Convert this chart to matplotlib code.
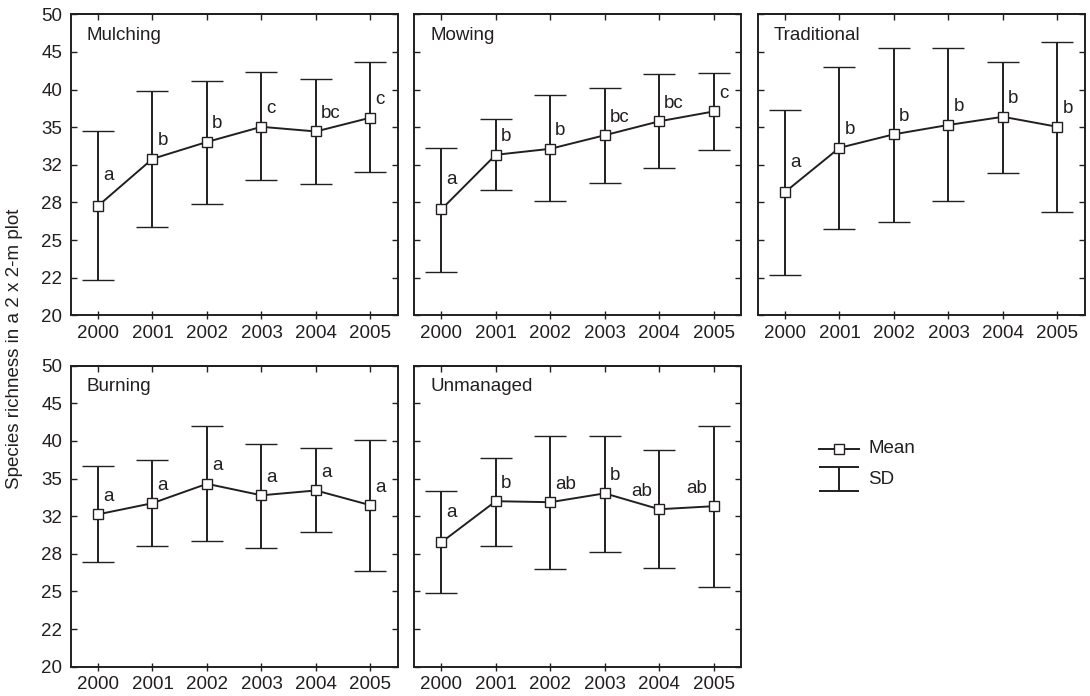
import matplotlib.pyplot as plt
import numpy as np
from matplotlib.ticker import FixedLocator, NullLocator

plt.rcParams['font.family'] = ['Liberation Sans', 'DejaVu Sans']

ink = '#231f20'
fs = 13.5

years = [2000, 2001, 2002, 2003, 2004, 2005]

# means with lower / upper SD limits (back-transformed, log scale)
mulching_mean = [27.9, 32.2, 33.9, 35.5, 35.0, 36.5]
mulching_low = [22.3, 26.2, 28.1, 30.2, 29.8, 30.9]
mulching_high = [35.1, 39.6, 40.8, 41.9, 41.1, 43.2]
mulching_letters = ['a', 'b', 'b', 'c', 'bc', 'c']

mowing_mean = [27.6, 32.6, 33.2, 34.6, 36.1, 37.2]
mowing_low = [22.8, 29.3, 28.3, 29.9, 31.3, 33.1]
mowing_high = [33.3, 36.3, 39.1, 40.0, 41.7, 41.8]
mowing_letters = ['a', 'b', 'b', 'bc', 'bc', 'c']

traditional_mean = [29.1, 33.3, 34.7, 35.7, 36.6, 35.5]
traditional_low = [22.6, 26.0, 26.6, 28.3, 30.8, 27.4]
traditional_high = [37.4, 42.6, 45.1, 45.1, 43.3, 45.9]
traditional_letters = ['a', 'b', 'b', 'b', 'b', 'b']

burning_mean = [31.8, 32.9, 34.9, 33.7, 34.2, 32.7]
burning_low = [27.5, 28.9, 29.3, 28.7, 30.1, 26.8]
burning_high = [36.8, 37.5, 41.6, 39.4, 38.9, 39.9]
burning_letters = ['a', 'a', 'a', 'a', 'a', 'a']

unmanaged_mean = [29.2, 33.1, 33.0, 33.9, 32.3, 32.6]
unmanaged_low = [25.0, 28.9, 26.9, 28.4, 27.0, 25.5]
unmanaged_high = [34.1, 37.8, 40.4, 40.4, 38.7, 41.6]
unmanaged_letters = ['a', 'b', 'ab', 'b', 'ab', 'ab']

panels = [
    ('Mulching', mulching_mean, mulching_low, mulching_high, mulching_letters),
    ('Mowing', mowing_mean, mowing_low, mowing_high, mowing_letters),
    ('Traditional', traditional_mean, traditional_low, traditional_high, traditional_letters),
    ('Burning', burning_mean, burning_low, burning_high, burning_letters),
    ('Unmanaged', unmanaged_mean, unmanaged_low, unmanaged_high, unmanaged_letters),
]

W, H = 1090, 696
fig = plt.figure(figsize=(W / 100, H / 100), dpi=100)

col_left = [70.7, 414.0, 757.7]
row_top = [14.3, 365.7]
ax_w, ax_h = 327.0, 301.0

yticks = 20 * 2.5 ** (np.arange(9) / 8)

for k, (name, mean, low, high, letters) in enumerate(panels):
    r, c = divmod(k, 3)
    ax = fig.add_axes([col_left[c] / W, 1 - (row_top[r] + ax_h) / H, ax_w / W, ax_h / H])
    mean = np.array(mean)
    yerr = [mean - np.array(low), np.array(high) - mean]
    ax.errorbar(years, mean, yerr=yerr, fmt='-s', color=ink, lw=1.4,
                elinewidth=1.4, capsize=11.8, capthick=1.4,
                ms=6.5, mfc='white', mec=ink, mew=1.0)

    for i, (x, y, lab) in enumerate(zip(years, mean, letters)):
        lift = 30 if (i == 0 and name != 'Burning') else 18
        if name == 'Unmanaged' and i >= 4:
            ax.annotate(lab, (x, y), xytext=(-7, lift), textcoords='offset pixels',
                        ha='right', va='center', fontsize=fs, color=ink)
        else:
            ax.annotate(lab, (x, y), xytext=(5, lift), textcoords='offset pixels',
                        ha='left', va='center', fontsize=fs, color=ink)

    ax.text(0.049, 0.93, name, transform=ax.transAxes, ha='left', va='center',
            fontsize=fs, color=ink)

    ax.set_yscale('log')
    ax.set_ylim(20, 50)
    ax.set_xlim(1999.5, 2005.5)
    ax.yaxis.set_major_locator(FixedLocator(yticks))
    ax.yaxis.set_minor_locator(NullLocator())
    if c == 0:
        ax.set_yticklabels([f'{round(v)}' for v in yticks])
    else:
        ax.set_yticklabels([])
    ax.set_xticks(years)
    ax.set_xticklabels([str(y) for y in years])

    ax.tick_params(axis='y', direction='in', left=True, right=True, length=4,
                   width=1.0, color=ink, labelcolor=ink, labelsize=fs, pad=6)
    ax.tick_params(axis='x', direction='inout', top=False, length=6, width=1.0,
                   color=ink, labelcolor=ink, labelsize=fs, pad=4)
    top = ax.secondary_xaxis('top')
    top.set_xticks(years)
    top.tick_params(direction='in', length=4, width=1.0, color=ink, labeltop=False)
    top.spines['top'].set_linewidth(1.4)
    top.spines['top'].set_color(ink)
    for sp in ax.spines.values():
        sp.set_linewidth(1.4)
        sp.set_color(ink)

fig.text(15 / W, 1 - 349 / H, 'Species richness in a 2 x 2-m plot', rotation=90,
         ha='center', va='center', fontsize=fs, color=ink)

# legend
lax = fig.add_axes([815 / W, 1 - 500 / H, 115 / W, 65 / H])
lax.set_xlim(0, 115)
lax.set_ylim(0, 65)
lax.axis('off')
lax.plot([4, 44], [51, 51], '-', color=ink, lw=1.4)
lax.plot([24], [51], 's', ms=6.5, mfc='white', mec=ink, mew=1.0)
lax.errorbar([24], [21], yerr=12, fmt='none', ecolor=ink, elinewidth=1.4,
             capsize=14.4, capthick=1.4)
lax.text(53, 51, 'Mean', ha='left', va='center', fontsize=fs, color=ink)
lax.text(53, 21, 'SD', ha='left', va='center', fontsize=fs, color=ink)

fig.savefig('out.png', dpi=100)
